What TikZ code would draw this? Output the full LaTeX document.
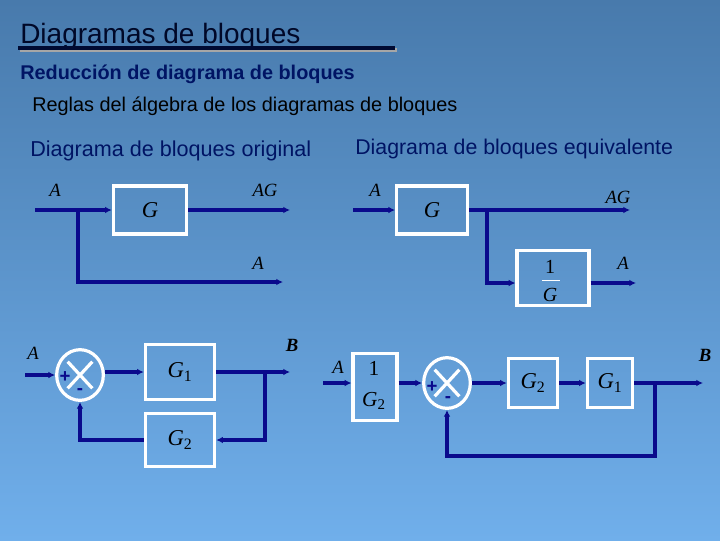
\documentclass[tikz,border=0pt]{standalone}
\usepackage{fontspec}
\setmainfont{Liberation Sans}
\newfontfamily\tm{Liberation Serif}
\usetikzlibrary{arrows.meta,calc}
\definecolor{navy}{RGB}{10,10,140}
\definecolor{bgtop}{RGB}{72,122,172}
\definecolor{bgbot}{RGB}{112,175,235}
\definecolor{hd}{RGB}{0,20,100}
\tikzset{
  wire/.style={navy,line width=2.6pt},
  arr/.style={wire,-{Latex[length=5pt,width=5pt]}},
  blk/.style={draw=white,line width=2.4pt,minimum width=#1,inner sep=0pt,font=\tm\fontsize{17}{17}\selectfont\itshape},
  sig/.style={font=\tm\fontsize{14}{14}\selectfont\itshape,text=black},
  sumj/.style={draw=white,line width=2.4pt,ellipse,minimum width=35pt,minimum height=38pt,inner sep=0pt},
}
\usetikzlibrary{shapes.geometric}
\newcommand{\sj}[1]{\draw[white,line width=2.4pt] ($(#1.north west)!0.15!(#1.south east)$)--($(#1.north west)!0.85!(#1.south east)$) ($(#1.north east)!0.15!(#1.south west)$)--($(#1.north east)!0.85!(#1.south west)$);}
\begin{document}
\begin{tikzpicture}[x=0.75pt,y=-0.75pt]
\fill[top color=bgtop,bottom color=bgbot] (0,0) rectangle (720,540);
\useasboundingbox (0,0) rectangle (720,540);
\node[anchor=base west,inner sep=0,font=\fontsize{21}{21}\selectfont,text=hd!40!black] (t) at (20,43) {Diagramas de bloques};
\draw[gray!70,line width=3pt] (20,50)--(397,50);
\draw[hd!50!black,line width=3pt] (18,48)--(395,48);
\node[anchor=base west,inner sep=0,font=\bfseries\fontsize{14.9}{15}\selectfont,text=hd] (r) at (20,79) {Reducción de diagrama de bloques};
\node[anchor=base west,inner sep=0,font=\fontsize{14.9}{15}\selectfont,text=black] (rg) at (32,111) {Reglas del álgebra de los diagramas de bloques};
\node[anchor=base west,inner sep=0,font=\fontsize{16.2}{16}\selectfont,text=hd] (o) at (30,156) {Diagrama de bloques original};
\node[anchor=base west,inner sep=0,font=\fontsize{16}{16}\selectfont,text=hd] (e) at (355,154) {Diagrama de bloques equivalente};
% top-left
\node[blk=55pt,minimum height=36pt] (g) at (150,210) {G};
\coordinate (in1) at (35,210); \coordinate (br1) at (78,210);
\coordinate (o1) at (290,210); \coordinate (o2) at (283,282);
\draw[arr] (in1)--(g.west);
\draw[arr] (g.east)--(o1);
\draw[arr] (br1)|-(o2);
\node[sig] at (55,190) {A}; \node[sig] at (265,190) {AG}; \node[sig] at (258,263) {A};
% top-right
\node[blk=53pt,minimum height=36pt] (g2) at (432,210) {G};
\node[blk=54pt,minimum height=41pt] (ig) at (553,278) {};
\node[font=\tm\fontsize{15}{15}\selectfont] at (550,267) {1};
\draw[white,line width=0.3pt] (542,280)--(560,280);
\node[font=\tm\fontsize{15}{15}\selectfont\itshape] at (550,295) {G};
\coordinate (in2) at (353,210); \coordinate (br2) at (487,210);
\coordinate (o3) at (630,210); \coordinate (o4) at (636,283);
\draw[arr] (in2)--(g2.west);
\draw[arr] (g2.east)--(o3);
\draw[arr] (br2)|-(ig.west|-0,283);
\draw[arr] (ig.east|-0,283)--(o4);
\node[sig] at (375,190) {A}; \node[sig] at (618,197) {AG}; \node[sig] at (623,263) {A};
% bottom-left
\node[sumj] (s1) at (80,375) {};
\sj{s1}
\node[blk=52pt,minimum height=41pt] (G1) at (180,372) {G\textsubscript{\upshape 1}};
\node[blk=52pt,minimum height=40pt] (G2) at (180,440) {G\textsubscript{\upshape 2}};
\coordinate (a1) at (25,375); \coordinate (b1) at (290,372); \coordinate (k1) at (265,372);
\draw[arr] (a1)--(s1.west);
\draw[arr] (s1.east|-0,372)--(G1.west);
\draw[arr] (G1.east)--(b1);
\draw[arr] (k1)|-(G2.east);
\draw[arr] (G2.west)-|(s1.south);
\node[font=\bfseries\fontsize{14}{14}\selectfont,text=navy] at (65,377) {+};
\node[font=\bfseries\fontsize{14}{14}\selectfont,text=navy] at (80,392) {-};
\node[sig] at (33,353) {A}; \node[sig,font=\tm\bfseries\itshape\fontsize{14}{14}\selectfont] at (292,345) {B};
% bottom-right
\node[blk=33pt,minimum height=50pt] (ig2) at (375,387) {};
\node[font=\tm\fontsize{16}{16}\selectfont] at (374,368) {1};
\node[font=\tm\fontsize{16}{16}\selectfont\itshape] at (374,401) {G\textsubscript{\upshape 2}};
\node[sumj] (s2) at (447,383) {};
\sj{s2}
\node[blk=37pt,minimum height=37pt] (H2) at (533,383) {G\textsubscript{\upshape 2}};
\node[blk=34pt,minimum height=37pt] (H1) at (610,383) {G\textsubscript{\upshape 1}};
\coordinate (a2) at (323,383); \coordinate (b2) at (703,383); \coordinate (k2) at (655,383); \coordinate (k3) at (655,456);
\draw[arr] (a2)--(ig2.west|-0,383);
\draw[arr] (ig2.east|-0,383)--(s2.west);
\draw[arr] (s2.east)--(H2.west);
\draw[arr] (H2.east)--(H1.west);
\draw[arr] (H1.east)--(b2);
\draw[arr] (k2)--(k3)-|(s2.south);
\node[font=\bfseries\fontsize{14}{14}\selectfont,text=navy] at (432,387) {+};
\node[font=\bfseries\fontsize{14}{14}\selectfont,text=navy] at (448,400) {-};
\node[sig] at (338,367) {A}; \node[sig,font=\tm\bfseries\itshape\fontsize{14}{14}\selectfont] at (705,355) {B};
\end{tikzpicture}
\end{document}
